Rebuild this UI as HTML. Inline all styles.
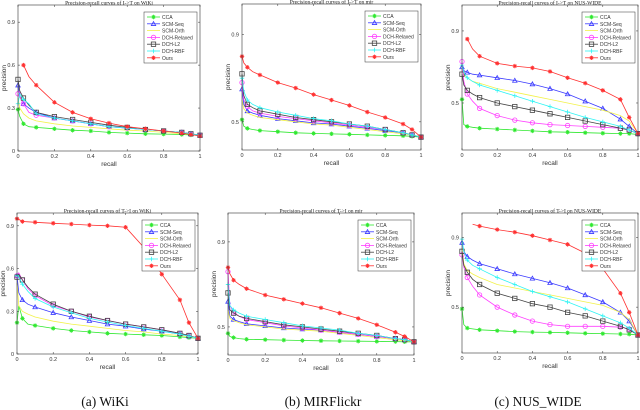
<!DOCTYPE html>
<html><head><meta charset="utf-8"><style>
html,body{margin:0;padding:0;background:#fff;width:640px;height:410px;overflow:hidden}
svg{display:block}
</style></head><body>
<svg id="fig" width="640" height="410" xmlns="http://www.w3.org/2000/svg" font-family="Liberation Sans, sans-serif"></svg>
<script>
// shared recall grid
const recall = [0,0.01,0.03,0.06,0.1,0.2,0.3,0.4,0.5,0.6,0.7,0.8,0.9,0.95,1];
const methods = ["CCA","SCM-Seq","SCM-Orth","DCH-Relaxed","DCH-L2","DCH-RBF","Ours"];
const xTicks = [0,0.2,0.4,0.6,0.8,1];
const xTickLabels = ["0","0.2","0.4","0.6","0.8","1"];
const yTicksWiki = [0,0.3,0.6,0.9];
const yTicksOther = [0.5,0.9];

// (a) WiKi I->T
const wikiI2T_CCA = [0.29,0.24,0.19,0.17,0.165,0.155,0.145,0.14,0.13,0.125,0.12,0.118,0.115,0.112,0.11];
const wikiI2T_SCMSeq = [0.46,0.38,0.33,0.30,0.27,0.23,0.21,0.19,0.17,0.16,0.15,0.14,0.13,0.12,0.11];
const wikiI2T_SCMOrth = [0.37,0.30,0.26,0.23,0.21,0.19,0.175,0.165,0.155,0.145,0.14,0.13,0.12,0.115,0.11];
const wikiI2T_DCHRelaxed = [0.40,0.38,0.33,0.27,0.25,0.23,0.21,0.19,0.17,0.16,0.15,0.14,0.13,0.12,0.11];
const wikiI2T_DCHL2 = [0.50,0.42,0.37,0.32,0.27,0.24,0.22,0.20,0.18,0.165,0.15,0.14,0.13,0.12,0.11];
const wikiI2T_DCHRBF = [0.33,0.40,0.36,0.33,0.26,0.23,0.21,0.19,0.17,0.16,0.15,0.14,0.13,0.12,0.11];
const wikiI2T_Ours = [null,null,0.60,0.52,0.46,0.34,0.27,0.225,0.195,0.17,0.155,0.14,0.125,0.115,0.105];
// (b) MIRFlickr I->T
const mirI2T_CCA = [0.51,0.48,0.47,0.465,0.46,0.455,0.45,0.447,0.445,0.443,0.44,0.438,0.436,0.434,0.43];
const mirI2T_SCMSeq = [0.65,0.58,0.55,0.54,0.53,0.515,0.505,0.495,0.49,0.48,0.47,0.46,0.45,0.44,0.43];
const mirI2T_SCMOrth = [0.60,0.56,0.54,0.53,0.52,0.51,0.50,0.49,0.485,0.475,0.465,0.455,0.445,0.44,0.43];
const mirI2T_DCHRelaxed = [0.68,0.60,0.57,0.55,0.54,0.525,0.515,0.505,0.495,0.485,0.475,0.465,0.45,0.44,0.43];
const mirI2T_DCHL2 = [0.72,0.62,0.58,0.565,0.55,0.535,0.52,0.51,0.50,0.49,0.48,0.465,0.45,0.44,0.43];
const mirI2T_DCHRBF = [0.70,0.64,0.60,0.58,0.565,0.545,0.53,0.515,0.505,0.49,0.48,0.465,0.45,0.44,0.43];
const mirI2T_Ours = [0.80,0.77,0.75,0.73,0.715,0.68,0.655,0.625,0.60,0.575,0.545,0.52,0.49,0.465,0.43];
// (c) NUS-WIDE I->T
const nusI2T_CCA = [0.52,0.38,0.37,0.365,0.36,0.355,0.35,0.345,0.34,0.338,0.335,0.332,0.33,0.33,0.325];
const nusI2T_SCMSeq = [0.70,0.68,0.67,0.66,0.655,0.64,0.625,0.605,0.58,0.55,0.51,0.47,0.41,0.37,0.33];
const nusI2T_SCMOrth = [0.69,0.66,0.64,0.62,0.61,0.58,0.56,0.54,0.52,0.50,0.48,0.46,0.43,0.40,0.33];
const nusI2T_DCHRelaxed = [0.73,0.62,0.55,0.51,0.47,0.43,0.405,0.39,0.38,0.375,0.37,0.365,0.36,0.35,0.33];
const nusI2T_DCHL2 = [0.66,0.60,0.57,0.55,0.53,0.50,0.48,0.46,0.44,0.42,0.40,0.38,0.36,0.35,0.33];
const nusI2T_DCHRBF = [0.71,0.67,0.64,0.62,0.60,0.57,0.54,0.51,0.48,0.45,0.42,0.395,0.37,0.35,0.33];
const nusI2T_Ours = [null,null,0.855,0.80,0.76,0.72,0.705,0.695,0.675,0.64,0.61,0.57,0.52,0.42,0.33];
// (a) WiKi T->I
const wikiT2I_CCA = [0.22,0.34,0.25,0.21,0.20,0.18,0.165,0.155,0.145,0.14,0.135,0.13,0.12,0.115,0.11];
const wikiT2I_SCMSeq = [0.55,0.43,0.38,0.35,0.33,0.29,0.26,0.235,0.21,0.195,0.175,0.16,0.14,0.125,0.11];
const wikiT2I_SCMOrth = [0.50,0.34,0.30,0.28,0.26,0.23,0.21,0.195,0.18,0.165,0.155,0.14,0.13,0.12,0.11];
const wikiT2I_DCHRelaxed = [0.55,0.57,0.52,0.46,0.41,0.34,0.30,0.26,0.235,0.21,0.19,0.17,0.145,0.13,0.11];
const wikiT2I_DCHL2 = [0.54,0.56,0.52,0.47,0.42,0.35,0.30,0.265,0.235,0.21,0.19,0.17,0.145,0.13,0.11];
const wikiT2I_DCHRBF = [0.55,0.54,0.49,0.44,0.39,0.33,0.29,0.25,0.225,0.20,0.18,0.16,0.14,0.125,0.11];
const wikiT2I_Ours = [0.95,0.945,0.93,0.928,0.925,0.918,0.912,0.905,0.90,0.89,0.75,0.56,0.38,0.22,0.11];
// (b) MIRFlickr T->I
const mirT2I_CCA = [0.47,0.455,0.45,0.445,0.442,0.44,0.438,0.436,0.435,0.434,0.433,0.432,0.431,0.43,0.43];
const mirT2I_SCMSeq = [0.62,0.55,0.535,0.525,0.515,0.505,0.495,0.49,0.485,0.475,0.465,0.455,0.445,0.44,0.43];
const mirT2I_SCMOrth = [0.58,0.54,0.53,0.52,0.51,0.50,0.49,0.485,0.48,0.47,0.46,0.45,0.44,0.435,0.43];
const mirT2I_DCHRelaxed = [0.76,0.60,0.57,0.55,0.535,0.52,0.505,0.495,0.485,0.475,0.465,0.455,0.445,0.44,0.43];
const mirT2I_DCHL2 = [0.66,0.58,0.565,0.55,0.54,0.525,0.51,0.50,0.49,0.48,0.47,0.46,0.445,0.44,0.43];
const mirT2I_DCHRBF = [0.70,0.60,0.58,0.565,0.55,0.535,0.52,0.505,0.495,0.485,0.47,0.46,0.445,0.44,0.43];
const mirT2I_Ours = [0.78,0.75,0.72,0.70,0.68,0.65,0.63,0.61,0.59,0.565,0.54,0.51,0.475,0.455,0.43];
// (c) NUS-WIDE T->I
const nusT2I_CCA = [0.49,0.40,0.38,0.375,0.37,0.365,0.36,0.357,0.355,0.353,0.35,0.348,0.346,0.345,0.34];
const nusT2I_SCMSeq = [0.87,0.82,0.79,0.77,0.75,0.72,0.69,0.665,0.64,0.61,0.57,0.53,0.47,0.42,0.34];
const nusT2I_SCMOrth = [0.84,0.75,0.71,0.69,0.67,0.63,0.61,0.59,0.57,0.55,0.53,0.51,0.47,0.43,0.34];
const nusT2I_DCHRelaxed = [0.80,0.73,0.67,0.62,0.57,0.50,0.455,0.42,0.40,0.39,0.39,0.39,0.385,0.375,0.34];
const nusT2I_DCHL2 = [0.82,0.74,0.70,0.66,0.63,0.58,0.55,0.52,0.50,0.47,0.45,0.42,0.39,0.37,0.34];
const nusT2I_DCHRBF = [0.89,0.82,0.77,0.74,0.72,0.67,0.63,0.59,0.56,0.53,0.49,0.45,0.41,0.38,0.34];
const nusT2I_Ours = [null,null,null,0.975,0.965,0.945,0.93,0.91,0.885,0.86,0.81,0.72,0.58,0.47,0.34];

const colors = ["#2fe82f","#3b3bff","#f2f24a","#ff40ff","#444444","#30f4f4","#ff3030"];
const markers = ["star","tri","none","circ","sq","plus","ast"];
const NS="http://www.w3.org/2000/svg";
const fig=document.getElementById('fig');
function mk(tag,attrs,parent){const e=document.createElementNS(NS,tag);for(const k in attrs)e.setAttribute(k,attrs[k]);(parent||fig).appendChild(e);return e;}

const panels=[
 {key:"wiki-i2t",title:"Precision-recall curves of I->T on WiKi",x0:18,x1:200,top:5,bot:151,ymin:0,ymax:1.02,yt:yTicksWiki,yl:["0","0.3","0.6","0.9"],series:[wikiI2T_CCA,wikiI2T_SCMSeq,wikiI2T_SCMOrth,wikiI2T_DCHRelaxed,wikiI2T_DCHL2,wikiI2T_DCHRBF,wikiI2T_Ours]},
 {key:"mir-i2t",title:"Precision-recall curves of I->T on mir",x0:242,x1:421,top:4,bot:150,ymin:0.371,ymax:1.04,yt:yTicksOther,yl:["0.5","0.9"],series:[mirI2T_CCA,mirI2T_SCMSeq,mirI2T_SCMOrth,mirI2T_DCHRelaxed,mirI2T_DCHL2,mirI2T_DCHRBF,mirI2T_Ours]},
 {key:"nus-i2t",title:"Precision-recall curves of I->T on NUS-WIDE",x0:462,x1:638,top:5,bot:150,ymin:0.239,ymax:1.044,yt:yTicksOther,yl:["0.5","0.9"],series:[nusI2T_CCA,nusI2T_SCMSeq,nusI2T_SCMOrth,nusI2T_DCHRelaxed,nusI2T_DCHL2,nusI2T_DCHRBF,nusI2T_Ours]},
 {key:"wiki-t2i",title:"Precision-recall curves of T->I on WiKi",x0:17,x1:198,top:213,bot:354,ymin:0,ymax:0.99,yt:yTicksWiki,yl:["0","0.3","0.6","0.9"],series:[wikiT2I_CCA,wikiT2I_SCMSeq,wikiT2I_SCMOrth,wikiT2I_DCHRelaxed,wikiT2I_DCHL2,wikiT2I_DCHRBF,wikiT2I_Ours]},
 {key:"mir-t2i",title:"Precision-recall curves of T->I on mir",x0:228,x1:414,top:213,bot:355,ymin:0.368,ymax:1.036,yt:yTicksOther,yl:["0.5","0.9"],series:[mirT2I_CCA,mirT2I_SCMSeq,mirT2I_SCMOrth,mirT2I_DCHRelaxed,mirT2I_DCHL2,mirT2I_DCHRBF,mirT2I_Ours]},
 {key:"nus-t2i",title:"Precision-recall curves of T->I on NUS-WIDE",x0:462,x1:638,top:213,bot:353,ymin:0.237,ymax:1.04,yt:yTicksOther,yl:["0.5","0.9"],series:[nusT2I_CCA,nusT2I_SCMSeq,nusT2I_SCMOrth,nusT2I_DCHRelaxed,nusT2I_DCHL2,nusT2I_DCHRBF,nusT2I_Ours]}
];

function marker(g,type,x,y,c){
  const s=2.2;
  if(type==="tri")mk('path',{d:`M${x},${y-s} L${x+s},${y+s*0.8} L${x-s},${y+s*0.8}Z`,fill:'none',stroke:c,'stroke-width':0.8},g);
  else if(type==="circ")mk('circle',{cx:x,cy:y,r:s,fill:'none',stroke:c,'stroke-width':0.8},g);
  else if(type==="sq")mk('rect',{x:x-s,y:y-s,width:2*s,height:2*s,fill:'none',stroke:c,'stroke-width':0.8},g);
  else if(type==="plus")mk('path',{d:`M${x-s},${y}H${x+s}M${x},${y-s}V${y+s}`,stroke:c,'stroke-width':0.8},g);
  else if(type==="star"||type==="ast")mk('path',{d:`M${x-s},${y}H${x+s}M${x},${y-s}V${y+s}M${x-s*0.7},${y-s*0.7}L${x+s*0.7},${y+s*0.7}M${x-s*0.7},${y+s*0.7}L${x+s*0.7},${y-s*0.7}`,stroke:c,'stroke-width':0.9},g);
}

panels.forEach(p=>{
  const g=mk('g',{});
  
  
  const xs=v=>p.x0+(p.x1-p.x0)*v;
  const ys=v=>p.bot-(p.bot-p.top)*(v-p.ymin)/(p.ymax-p.ymin);
  const t=mk('text',{x:(p.x0+p.x1)/2,y:p.top-0.5,'font-size':5.5,'font-family':'Liberation Serif, serif','text-anchor':'middle',fill:'#222'},g);
  t.textContent=p.title;
  
  
  // series
  p.series.forEach((arr,si)=>{
    const sg=mk('g',{},g);
    
    
    let d='';
    arr.forEach((v,i)=>{if(v===null)return;d+=(d?'L':'M')+xs(recall[i]).toFixed(1)+','+ys(v).toFixed(1);});
    mk('path',{d:d,fill:'none',stroke:colors[si],'stroke-width':0.8},sg);
    if(markers[si]!=="none")arr.forEach((v,i)=>{if(v===null)return;if(i===1||i===3)return;marker(sg,markers[si],xs(recall[i]),ys(v),colors[si]);});
  });
  // axes box
  const ax=mk('rect',{x:p.x0,y:p.top,width:p.x1-p.x0,height:p.bot-p.top,fill:'none',stroke:'#333','stroke-width':0.6},g);
  
  
  xTicks.forEach((v,i)=>{
    const x=xs(v);
    mk('path',{d:`M${x},${p.bot}v-2M${x},${p.top}v2`,stroke:'#333','stroke-width':0.5},g);
    const tl=mk('text',{x:x,y:p.bot+7,'font-size':5.5,'text-anchor':'middle',fill:'#333'},g);
    tl.textContent=xTickLabels[i];
    
    
  });
  p.yt.forEach((v,i)=>{
    const y=ys(v);
    mk('path',{d:`M${p.x0},${y}h2M${p.x1},${y}h-2`,stroke:'#333','stroke-width':0.5},g);
    const tl=mk('text',{x:p.x0-3,y:y+2,'font-size':5.5,'text-anchor':'end',fill:'#333'},g);
    tl.textContent=p.yl[i];
    
    
  });
  const xl=mk('text',{x:(p.x0+p.x1)/2,y:p.bot+15,'font-size':6.5,'text-anchor':'middle',fill:'#333'},g);
  xl.textContent='recall';
  
  
  const cy=(p.top+p.bot)/2;
  const yl=mk('text',{x:p.x0-12,y:cy,'font-size':6.5,'text-anchor':'middle',fill:'#333',transform:`rotate(-90 ${p.x0-12} ${cy})`},g);
  yl.textContent='precision';
  
  
  // legend
  const lw=53,lh=51,lx=p.x1-lw-3,ly=p.top+7;
  const lg=mk('g',{},g);
  
  
  mk('rect',{x:lx,y:ly,width:lw,height:lh,fill:'#fff',stroke:'#333','stroke-width':0.5},lg);
  methods.forEach((m,i)=>{
    const yy=ly+5+i*6.8;
    const e=mk('g',{},lg);
    
    
    mk('path',{d:`M${lx+3},${yy}h13`,stroke:colors[i],'stroke-width':0.8},e);
    if(markers[i]!=="none")marker(e,markers[i],lx+9.5,yy,colors[i]);
    const tx=mk('text',{x:lx+18,y:yy+2,'font-size':5,fill:'#333'},e);
    tx.textContent=m;
  });
});

const caps=[["(a) WiKi",105],["(b) MIRFlickr",323],["(c) NUS_WIDE",538]];
caps.forEach(c=>{
  const t=mk('text',{x:c[1],y:406,'font-size':13.5,'font-family':'Liberation Serif, serif','text-anchor':'middle',fill:'#111'});
  t.textContent=c[0];
  
  
});
</script>
</body></html>
